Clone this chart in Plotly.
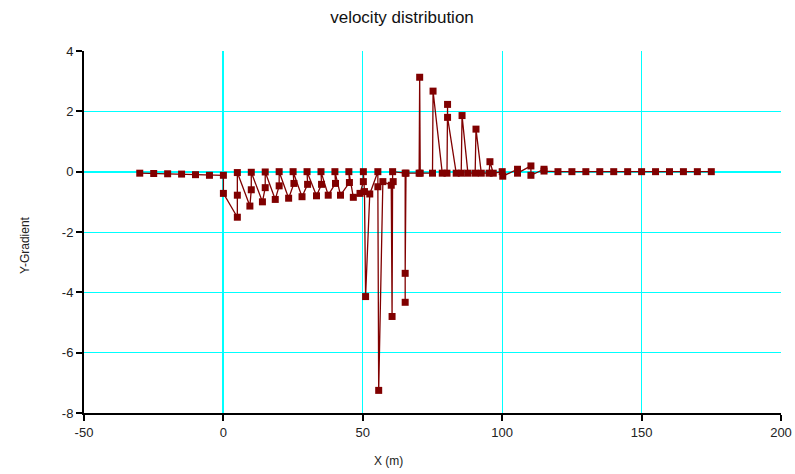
import plotly.graph_objects as go

# Sampled gradient profile, in the order the points are joined
x_m = [
    -30, -25, -20, -15, -10, -5, 0,
    0, 5, 5, 5,
    9.5, 10, 10,
    14, 15, 15,
    18.6, 20, 20,
    23.4, 25.3, 25,
    28.2, 30.2, 30,
    33.4, 35.2, 35,
    37.6, 40.2, 40,
    42.0, 45.2, 45,
    46.6, 49.0, 50.2, 50.2,
    50.6, 51.0, 52.5,
    55.4, 55.4, 55.7, 57.2,
    60.2, 60.5, 60.9, 60.7,
    65.2, 65.2, 65.2, 65.5,
    70.2, 70.4, 70.6,
    75.0, 75.2, 78.5,
    80.2, 80.4, 80.4, 83.5,
    85.3, 85.6, 87.7,
    90.3, 90.6, 92.5,
    95.3, 95.6, 96.8,
    100, 100.2, 105.5, 105.5, 110.3, 110.3, 115, 115,
    120, 125, 130, 135, 140, 145, 150, 155, 160, 165, 170, 175,
]
y_gradient = [
    -0.05, -0.06, -0.07, -0.08, -0.10, -0.12, -0.12,
    -0.72, -1.51, -0.78, -0.03,
    -1.14, -0.60, -0.02,
    -1.00, -0.53, -0.01,
    -0.92, -0.47, 0.0,
    -0.88, -0.39, 0.0,
    -0.83, -0.42, 0.0,
    -0.80, -0.42, 0.0,
    -0.78, -0.39, 0.0,
    -0.78, -0.36, 0.0,
    -0.85, -0.72, -0.33, 0.0,
    -0.66, -4.14, -0.74,
    0.0, -0.50, -7.25, -0.33,
    -0.45, -4.80, -0.33, 0.0,
    -0.05, -4.33, -3.37, -0.05,
    -0.05, 3.13, -0.05,
    -0.05, 2.67, -0.05,
    -0.05, 2.23, 1.80, -0.05,
    -0.05, 1.86, -0.05,
    -0.05, 1.41, -0.05,
    -0.05, 0.33, -0.05,
    0.0, -0.15, 0.08, -0.05, 0.19, -0.12, 0.08, 0.02,
    0.0, 0.0, 0.0, 0.0, 0.0, 0.0, 0.0, 0.0, 0.0, 0.0, 0.0, 0.0,
]

x_ticks = [-50, 0, 50, 100, 150, 200]
y_ticks = [-8, -6, -4, -2, 0, 2, 4]

W, H = 795, 474
L, R, T, B = 84, 14, 51, 61
plot_w, plot_h = W - L - R, H - T - B

FONT = "Liberation Sans, Arial, sans-serif"
MAROON = "#800000"
GRID = "#00ffff"

fig = go.Figure()
fig.add_trace(go.Scatter(
    x=x_m, y=y_gradient,
    mode="lines+markers",
    line=dict(color=MAROON, width=1.3),
    marker=dict(symbol="square", size=7, color=MAROON, line=dict(width=0)),
    showlegend=False,
    hoverinfo="x+y",
))

axis_common = dict(
    showgrid=True, gridcolor=GRID, gridwidth=1,
    zeroline=True, zerolinecolor=GRID, zerolinewidth=2,
    showline=True, linecolor="black", linewidth=2,
    ticks="outside", ticklen=6, tickwidth=2, tickcolor="black",
    tickfont=dict(family=FONT, size=13, color="#222222"),
    mirror=False, automargin=False,
)

fig.update_xaxes(range=[-50, 200], tickvals=x_ticks,
                 ticktext=[str(v) for v in x_ticks], **axis_common)
fig.update_yaxes(range=[-8, 4], tickvals=y_ticks,
                 ticktext=[str(v) for v in y_ticks], **axis_common)

fig.update_layout(
    width=W, height=H,
    margin=dict(l=L, r=R, t=T, b=B, pad=0, autoexpand=False),
    paper_bgcolor="white", plot_bgcolor="white",
    title=dict(
        text="velocity distribution",
        font=dict(family=FONT, size=17, color="#111111"),
        x=402 / W, xref="container", xanchor="center",
        y=1 - 17 / H, yref="container", yanchor="middle",
    ),
    annotations=[
        dict(text="X (m)", xref="paper", yref="paper",
             x=(388 - L) / plot_w, y=-(461 - (T + plot_h)) / plot_h,
             xanchor="center", yanchor="middle", showarrow=False,
             font=dict(family=FONT, size=12, color="#222222")),
        dict(text="Y-Gradient", xref="paper", yref="paper",
             x=(25 - L) / plot_w, y=((T + plot_h) - 245) / plot_h,
             xanchor="center", yanchor="middle", showarrow=False, textangle=-90,
             font=dict(family=FONT, size=12, color="#222222")),
    ],
)

fig.write_html("out.html")
